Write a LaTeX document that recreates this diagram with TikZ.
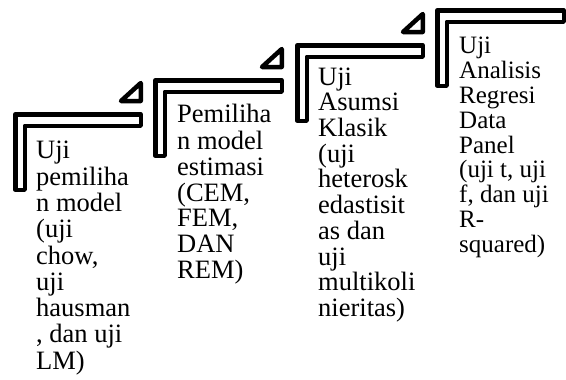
\documentclass[tikz,border=0pt]{standalone}
\usepackage{fontspec}
\setmainfont{Liberation Serif}
\begin{document}
\begin{tikzpicture}[x=1pt, y=-1pt,
  halfframe/.style={draw=black, line width=4.5pt, fill=white, line join=round},
  corner/.style={draw=black, line width=4.5pt, fill=white, line join=round},
  steptext/.style={anchor=north west, inner sep=0pt, align=left, font=\fontsize{26.5}{25.7}\selectfont}]
% Set the picture size (in pixels of the reference)
\useasboundingbox (0,0) rectangle (566,380);

% Step 1
\draw[halfframe] (15.25,114.25) -- (140.75,114.25) -- (140.75,125.75) -- (24.75,125.75) -- (24.75,189.75) -- (15.25,189.75) -- cycle;
\draw[corner] (140.75,101) -- (140.75,83) -- (121,101) -- cycle;
\node[steptext, font=\fontsize{26.5}{26.25}\selectfont] (stepA) at (36, 139.6) {\strut Uji\\pemiliha\\n model\\(uji\\chow,\\uji\\hausman\\, dan uji\\LM)};

% Step 2
\draw[halfframe] (155.25,80.25) -- (281.75,80.25) -- (281.75,91.75) -- (164.75,91.75) -- (164.75,155.75) -- (155.25,155.75) -- cycle;
\draw[corner] (281.75,67) -- (281.75,49) -- (262,67) -- cycle;
\node[steptext] (stepB) at (177, 104) {\strut Pemiliha\\n model\\estimasi\\(CEM,\\FEM,\\DAN\\REM)};

% Step 3
\draw[halfframe] (297.25,45.25) -- (422.75,45.25) -- (422.75,56.75) -- (306.75,56.75) -- (306.75,120.75) -- (297.25,120.75) -- cycle;
\draw[corner] (422.75,32) -- (422.75,14) -- (403,32) -- cycle;
\node[steptext] (stepC) at (318, 67) {\strut Uji\\Asumsi\\Klasik\\(uji\\heterosk\\edastisit\\as dan\\uji\\multikoli\\nieritas)};

% Step 4
\draw[halfframe] (437.25,10.25) -- (563.75,10.25) -- (563.75,21.75) -- (446.75,21.75) -- (446.75,85.75) -- (437.25,85.75) -- cycle;
\node[steptext, font=\fontsize{25}{24.75}\selectfont] (stepD) at (459, 35.7) {\strut Uji\\Analisis\\Regresi\\Data\\Panel\\(uji t, uji\\f, dan uji\\R-\\squared)};
\end{tikzpicture}
\end{document}
